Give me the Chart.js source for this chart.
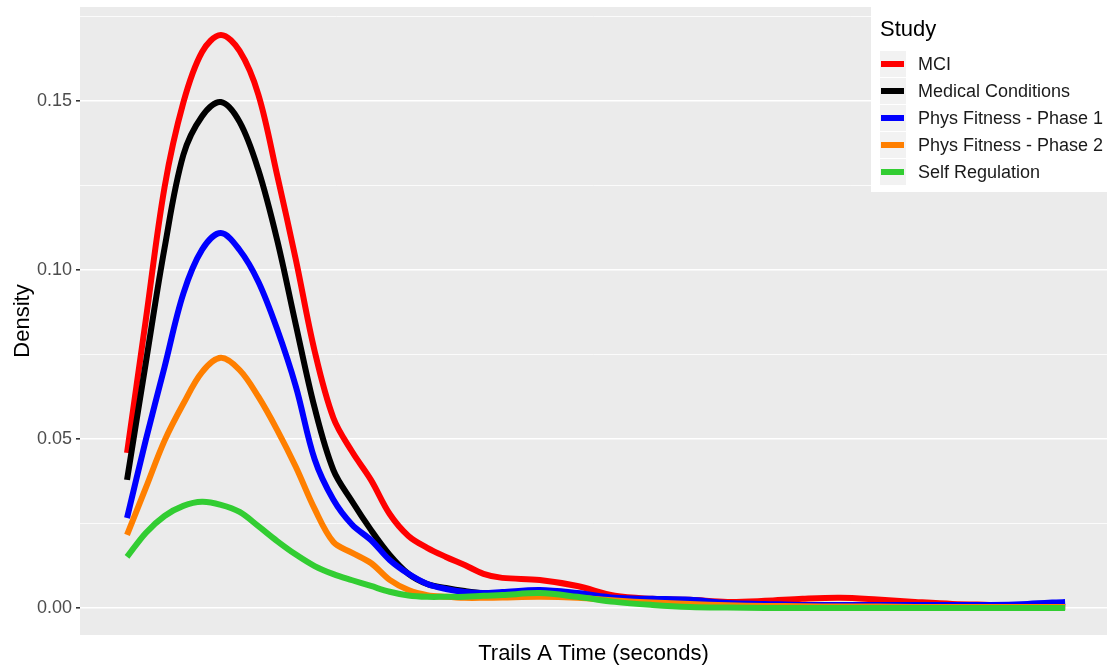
<!DOCTYPE html>
<html>
<head>
<meta charset="utf-8">
<script src="https://cdn.jsdelivr.net/npm/chart.js@4/dist/chart.umd.min.js"></script>
<style>
  html, body { margin: 0; padding: 0; background: #fff; }
  #wrap { width: 1107px; height: 667px; }
</style>
</head>
<body>
<div id="wrap"><canvas id="chart" width="1107" height="667"></canvas></div>
<script>
// Trails A time (seconds) grid, density per study
const times = [15, 18, 21, 24, 27, 30, 33, 36, 39, 42, 45, 48, 51, 54, 57, 60, 63, 66, 69, 72,
               75, 81, 87, 93, 99, 105, 111, 117, 123, 129, 135, 141, 147, 153, 159, 165];

const mci = [0.0459, 0.0852, 0.1245, 0.1495, 0.1645, 0.1695, 0.1648, 0.1519, 0.1281, 0.1030,
             0.0760, 0.0562, 0.0462, 0.0379, 0.0278, 0.0213, 0.0178, 0.0151, 0.0127, 0.0101,
             0.0089, 0.0083, 0.0065, 0.0036, 0.0027, 0.0024, 0.0018, 0.0021, 0.0027, 0.0030,
             0.0025, 0.0018, 0.0012, 0.0009, 0.0006, 0.0003];
const medical = [0.0379, 0.0725, 0.1065, 0.1340, 0.1455, 0.1497, 0.1438, 0.1296, 0.1089, 0.0837,
                 0.0592, 0.0408, 0.0315, 0.0231, 0.0157, 0.0101, 0.0071, 0.0059, 0.0050, 0.0044,
                 0.0044, 0.0041, 0.0035, 0.0024, 0.0020, 0.0016, 0.0012, 0.0009, 0.0007, 0.0006,
                 0.0005, 0.0004, 0.0004, 0.0003, 0.0003, 0.0003];
const physFit1 = [0.0266, 0.0497, 0.0713, 0.0930, 0.1060, 0.1109, 0.1059, 0.0965, 0.0825, 0.0655,
                  0.0440, 0.0320, 0.0246, 0.0201, 0.0142, 0.0101, 0.0071, 0.0056, 0.0047, 0.0044,
                  0.0047, 0.0053, 0.0044, 0.0030, 0.0027, 0.0024, 0.0015, 0.0012, 0.0009, 0.0009,
                  0.0009, 0.0009, 0.0009, 0.0009, 0.0012, 0.0018];
const physFit2 = [0.0216, 0.0355, 0.0495, 0.0604, 0.0698, 0.0740, 0.0704, 0.0625, 0.0527, 0.0417,
                  0.0293, 0.0195, 0.0163, 0.0133, 0.0083, 0.0053, 0.0038, 0.0033, 0.0030, 0.0030,
                  0.0031, 0.0033, 0.0030, 0.0022, 0.0016, 0.0012, 0.0008, 0.0006, 0.0005, 0.0004,
                  0.0004, 0.0003, 0.0003, 0.0003, 0.0003, 0.0003];
const selfReg = [0.0151, 0.0222, 0.0272, 0.0302, 0.0314, 0.0305, 0.0284, 0.0242, 0.0198, 0.0158,
                 0.0124, 0.0100, 0.0082, 0.0065, 0.0048, 0.0037, 0.0033, 0.0033, 0.0033, 0.0036,
                 0.0038, 0.0044, 0.0033, 0.0018, 0.0009, 0.0003, 0.0001, 0, 0, 0,
                 0, 0, 0, 0, 0, 0];

const studies = ['MCI', 'Medical Conditions', 'Phys Fitness - Phase 1', 'Phys Fitness - Phase 2', 'Self Regulation'];
const seriesValues = [mci, medical, physFit1, physFit2, selfReg];
const colors = ['#FF0000', '#000000', '#0000FF', '#FF7F00', '#32CD32'];

const yTicks = [0, 0.025, 0.05, 0.075, 0.1, 0.125, 0.15, 0.175];
const isMajor = v => Math.abs(Math.round(v * 20) - v * 20) < 1e-6;

const FONT = '"Liberation Sans", Arial, sans-serif';

// grey panel like ggplot
const panelBg = {
  id: 'panelBg',
  beforeDraw(chart) {
    const { ctx, chartArea: a } = chart;
    ctx.save();
    ctx.fillStyle = '#FFFFFF';
    ctx.fillRect(0, 0, chart.width, chart.height);
    ctx.fillStyle = '#EBEBEB';
    ctx.fillRect(a.left, a.top, a.right - a.left, a.bottom - a.top);
    ctx.restore();
  }
};

// legend box in the top right corner, over the panel
const studyLegend = {
  id: 'studyLegend',
  afterDraw(chart) {
    const ctx = chart.ctx;
    ctx.save();
    ctx.fillStyle = '#FFFFFF';
    ctx.fillRect(871, 7, 236, 185);
    ctx.fillStyle = '#000000';
    ctx.font = '22px ' + FONT;
    ctx.textBaseline = 'middle';
    ctx.fillText('Study', 880, 30);
    ctx.font = '18px ' + FONT;
    studies.forEach((name, i) => {
      const cy = 64 + 27 * i;
      ctx.fillStyle = '#F2F2F2';
      ctx.fillRect(880, cy - 13, 26, 26);
      ctx.fillStyle = colors[i];
      ctx.fillRect(881, cy - 3, 23, 6);
      ctx.fillStyle = '#1A1A1A';
      ctx.fillText(name, 918, cy + 1);
    });
    ctx.restore();
  }
};

new Chart(document.getElementById('chart'), {
  type: 'line',
  data: {
    labels: times,
    datasets: studies.map((name, i) => ({
      label: name,
      data: times.map((t, j) => ({ x: t, y: seriesValues[i][j] })),
      borderColor: colors[i],
      backgroundColor: colors[i],
      borderWidth: 6,
      borderCapStyle: 'butt',
      pointRadius: 0,
      tension: 0.35,
      fill: false,
      order: studies.length - i
    }))
  },
  options: {
    responsive: false,
    animation: false,
    layout: { padding: { top: 7, right: 0, left: 0, bottom: 0 } },
    plugins: { legend: { display: false }, tooltip: { enabled: false } },
    scales: {
      x: {
        type: 'linear',
        min: 7.48,
        max: 171.7,
        grid: { display: false },
        border: { display: false },
        ticks: { display: false },
        title: {
          display: true,
          text: 'Trails A Time (seconds)',
          color: '#000000',
          font: { family: FONT, size: 22 },
          padding: { top: 0, bottom: 0 }
        },
        afterFit(scale) {
          scale.height = 32;
          scale.paddingLeft = 0;
          scale.paddingRight = 0;
        }
      },
      y: {
        min: -0.008,
        max: 0.1778,
        afterBuildTicks(scale) { scale.ticks = yTicks.map(v => ({ value: v })); },
        grid: {
          color: '#FFFFFF',
          lineWidth: c => (isMajor(c.tick.value) ? 1.6 : 0.8),
          tickColor: c => (isMajor(c.tick.value) ? '#333333' : 'rgba(0,0,0,0)'),
          tickLength: 4
        },
        border: { display: false },
        ticks: {
          color: '#4D4D4D',
          font: { family: FONT, size: 18 },
          padding: 4,
          callback: v => (isMajor(v) ? v.toFixed(2) : '')
        },
        title: {
          display: true,
          text: 'Density',
          color: '#000000',
          font: { family: FONT, size: 22 },
          padding: { top: 10, bottom: 0 }
        },
        afterFit(scale) {
          scale.width = 80;
          scale.paddingTop = 0;
          scale.paddingBottom = 0;
        }
      }
    }
  },
  plugins: [panelBg, studyLegend]
});
</script>
</body>
</html>
